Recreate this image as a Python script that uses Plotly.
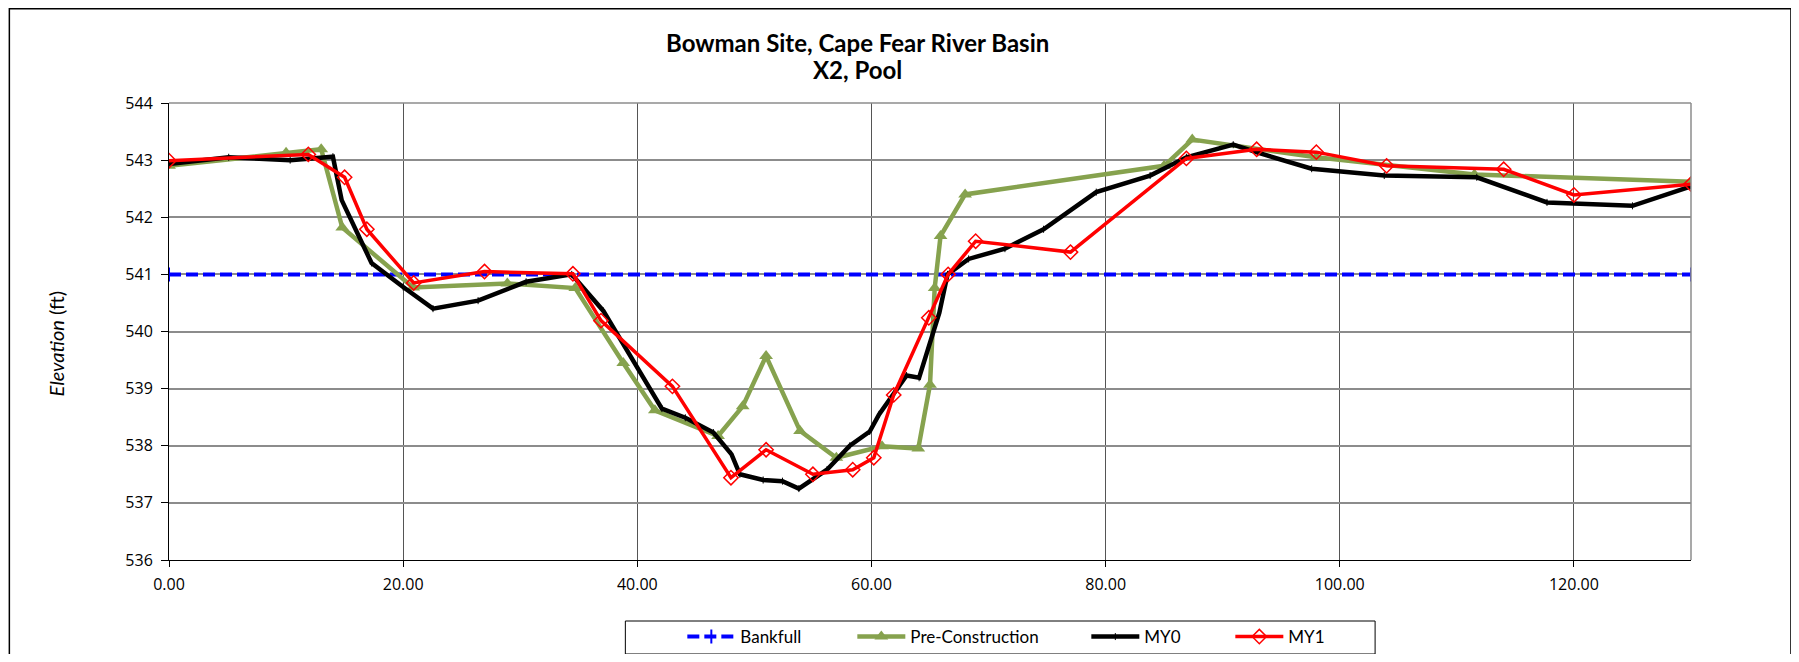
import plotly.graph_objects as go

# ---- data ----
bank_x = [0, 130]
bank_y = [541, 541]

pre_x = [0, 10, 13, 14.8, 20.85, 28.9, 34.7, 38.8, 41.5, 46.9, 49.0, 51.0, 53.9, 57.0, 60.9, 64.0, 65.0, 65.4, 65.9, 68.0, 85.0, 87.4, 98.0, 111.5, 130]
pre_y = [542.9, 543.13, 543.19, 541.82, 540.77, 540.84, 540.76, 539.45, 538.62, 538.17, 538.69, 539.57, 538.26, 537.79, 537.99, 537.95, 539.07, 540.76, 541.67, 542.4, 542.9, 543.36, 543.05, 542.75, 542.62]

my0_x = [0, 5.1, 10.35, 14.0, 14.75, 17.3, 20.0, 22.55, 26.4, 30.5, 34.4, 37.1, 42.1, 44.1, 46.5, 48.05, 48.76, 50.75, 52.4, 53.8, 56.2, 58.15, 59.85, 60.65, 63.0, 64.07, 65.8, 66.5, 68.3, 71.4, 74.7, 79.2, 83.8, 86.9, 90.9, 93.0, 97.6, 103.8, 111.7, 117.7, 125.0, 130.0]
my0_y = [542.93, 543.05, 543.0, 543.06, 542.3, 541.2, 540.78, 540.4, 540.54, 540.87, 541.0, 540.36, 538.65, 538.49, 538.23, 537.85, 537.5, 537.4, 537.38, 537.25, 537.58, 538.0, 538.25, 538.55, 539.23, 539.19, 540.33, 541.0, 541.27, 541.45, 541.79, 542.44, 542.73, 543.05, 543.27, 543.13, 542.85, 542.73, 542.7, 542.26, 542.2, 542.54]

my1_x = [0, 11.9, 15.0, 16.9, 20.9, 26.95, 34.5, 36.9, 43.0, 48.0, 51.0, 55.0, 58.4, 60.2, 61.9, 64.9, 66.55, 68.9, 77.0, 86.9, 92.9, 98.0, 104.0, 114.0, 120.0, 130.0]
my1_y = [542.99, 543.1, 542.7, 541.79, 540.85, 541.05, 541.01, 540.19, 539.04, 537.44, 537.93, 537.5, 537.58, 537.79, 538.89, 540.24, 541.0, 541.58, 541.39, 543.03, 543.19, 543.14, 542.9, 542.84, 542.39, 542.58]

x_ticks = [0, 20, 40, 60, 80, 100, 120]
y_ticks = [536, 537, 538, 539, 540, 541, 542, 543, 544]

title_1 = "Bowman Site, Cape Fear River Basin"
title_2 = "X2, Pool"

# page has an 8px body margin; figure size / margins set so the plot area
# lands at page x 168.5..1691, y 103..560
OFF = 8
W, H = 1791, 646
L, R, T, B = 160.5, 108, 95, 94
pw = W - L - R
ph = H - T - B

def px(x):
    return (x - OFF - L) / pw

def py(y):
    return (H - B - (y - OFF)) / ph

IW = 48  # legend item (symbol) width
fig = go.Figure()
fig.add_trace(go.Scatter(x=bank_x, y=bank_y, name="Bankfull", mode="lines+markers",
                         legendwidth=107,
                         line=dict(color="#0000FF", width=4, dash="12px,5px"),
                         marker=dict(symbol="line-ns-open", size=10, color="#0000FF",
                                     line=dict(width=2, color="#0000FF"))))
fig.add_trace(go.Scatter(x=pre_x, y=pre_y, name="Pre-Construction", mode="lines+markers",
                         legendwidth=171,
                         line=dict(color="#86A24E", width=4.5),
                         marker=dict(symbol="triangle-up", size=12, color="#86A24E")))
fig.add_trace(go.Scatter(x=my0_x, y=my0_y, name="MY0", mode="lines+markers",
                         legendwidth=81,
                         line=dict(color="#000000", width=4.5),
                         marker=dict(symbol="line-ns-open", size=5, color="#000000",
                                     line=dict(width=1, color="#000000"))))
fig.add_trace(go.Scatter(x=my1_x, y=my1_y, name="MY1", mode="lines+markers",
                         legendwidth=40,
                         line=dict(color="#FF0000", width=3.5),
                         marker=dict(symbol="diamond-open", size=11, color="#FF0000",
                                     line=dict(width=1.5, color="#FF0000"))))

font_main = "Lato, 'Open Sans', sans-serif"

fig.update_layout(
    width=W, height=H,
    margin=dict(l=L, r=R, t=T, b=B, autoexpand=False),
    paper_bgcolor="white", plot_bgcolor="white",
    showlegend=True,
    legend=dict(orientation="h", x=px(682), xanchor="left", y=py(637), yanchor="middle",
                bgcolor="rgba(0,0,0,0)", borderwidth=0,
                font=dict(family=font_main, size=17, color="black"),
                itemwidth=IW, traceorder="normal"),
    xaxis=dict(range=[0, 130], tickvals=x_ticks, ticktext=[f"{v:.2f}" for v in x_ticks],
               showgrid=True, gridcolor="#555555", gridwidth=1,
               showline=True, linecolor="black", linewidth=1,
               ticks="outside", ticklen=6, tickcolor="black", ticklabelstandoff=4,
               tickfont=dict(family="Open Sans", size=16, color="black"),
               zeroline=False),
    yaxis=dict(range=[536, 544], tickvals=y_ticks,
               showgrid=True, gridcolor="#8C8C8C", gridwidth=1.5,
               showline=True, linecolor="black", linewidth=1,
               ticks="outside", ticklen=7, tickcolor="black", ticklabelstandoff=5,
               tickfont=dict(family="Open Sans", size=16, color="black"),
               zeroline=False),
    annotations=[
        dict(text=f"<b>{title_1}</b>", x=px(857), y=py(42), xref="paper", yref="paper",
             showarrow=False, xanchor="center", yanchor="middle",
             font=dict(family=font_main, size=24, color="black")),
        dict(text=f"<b>{title_2}</b>", x=px(857), y=py(70), xref="paper", yref="paper",
             showarrow=False, xanchor="center", yanchor="middle",
             font=dict(family=font_main, size=24, color="black")),
        dict(text="<i>Elevation</i> (ft)", x=px(55), y=py(344), xref="paper", yref="paper",
             showarrow=False, xanchor="center", yanchor="middle", textangle=-90,
             font=dict(family=font_main, size=20, color="black")),
    ],
    shapes=[
        # outer chart frame
        dict(type="rect", xref="paper", yref="paper", x0=px(8.8), x1=px(1791), y0=py(700), y1=py(8.8),
             line=dict(color="black", width=1.5), layer="below"),
        # plot area right & top border
        dict(type="line", xref="paper", yref="paper", x0=1, x1=1, y0=0, y1=1,
             line=dict(color="#8C8C8C", width=1.5)),
        dict(type="line", xref="paper", yref="paper", x0=0, x1=1, y0=1, y1=1,
             line=dict(color="#8C8C8C", width=1.5)),
        # legend box
        dict(type="rect", xref="paper", yref="paper", x0=px(625), x1=px(1375), y0=py(654), y1=py(621),
             line=dict(color="black", width=1)),
    ],
)

fig.write_html("out.html")
